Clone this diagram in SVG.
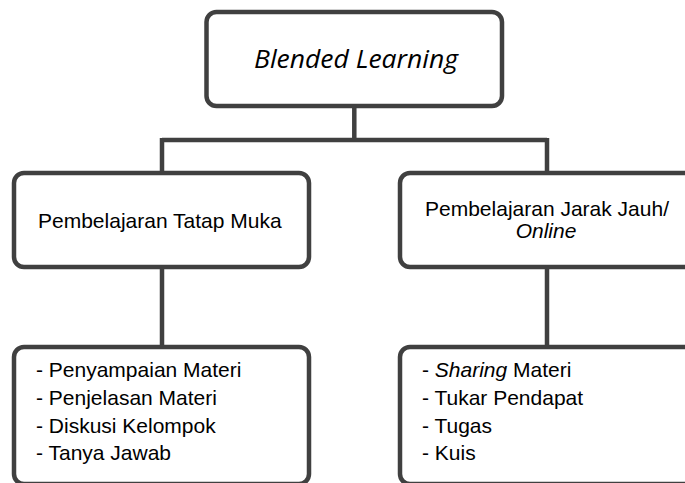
<svg xmlns="http://www.w3.org/2000/svg" width="685" height="483" viewBox="0 0 685 483">
<style>
.box{fill:#fff;stroke:#404040;stroke-width:4.5}
.con{fill:none;stroke:#404040;stroke-width:4.5}
.t{font-family:"Liberation Sans",Arial,sans-serif;font-size:21px;fill:#000}
.ti{font-family:"Open Sans",sans-serif;font-style:italic;font-size:26px;fill:#000}
</style>
<rect width="685" height="483" fill="#fff"/>
<g id="connectors">
<path class="con" d="M354.3 106V140M162 140H547M162 138V173M547 138V173M162 267V347M547 267V347"/>
</g>
<g id="blended">
<rect class="box" x="206.5" y="12" width="295.5" height="94" rx="10"/>
<text class="ti" x="254" y="68" textLength="204" lengthAdjust="spacingAndGlyphs">Blended Learning</text>
</g>
<g id="tatapmuka">
<rect class="box" x="14" y="173" width="295" height="94" rx="10"/>
<text class="t" x="38" y="228">Pembelajaran Tatap Muka</text>
</g>
<g id="jarakjauh">
<rect class="box" x="400" y="173" width="295" height="94" rx="10"/>
<text class="t" x="425" y="216">Pembelajaran Jarak Jauh/</text>
<text class="t" x="546" y="238" text-anchor="middle" font-style="italic">Online</text>
</g>
<g id="list-tatapmuka">
<rect class="box" x="14" y="347" width="295" height="137" rx="10"/>
<text class="t" x="36" y="377">- Penyampaian Materi</text>
<text class="t" x="36" y="405">- Penjelasan Materi</text>
<text class="t" x="36" y="432.5">- Diskusi Kelompok</text>
<text class="t" x="36" y="460">- Tanya Jawab</text>
</g>
<g id="list-jarakjauh">
<rect class="box" x="400" y="347" width="295" height="137" rx="10"/>
<text class="t" x="422" y="377">- <tspan font-style="italic">Sharing</tspan> Materi</text>
<text class="t" x="422" y="405">- Tukar Pendapat</text>
<text class="t" x="422" y="432.5">- Tugas</text>
<text class="t" x="422" y="460">- Kuis</text>
</g>
</svg>
